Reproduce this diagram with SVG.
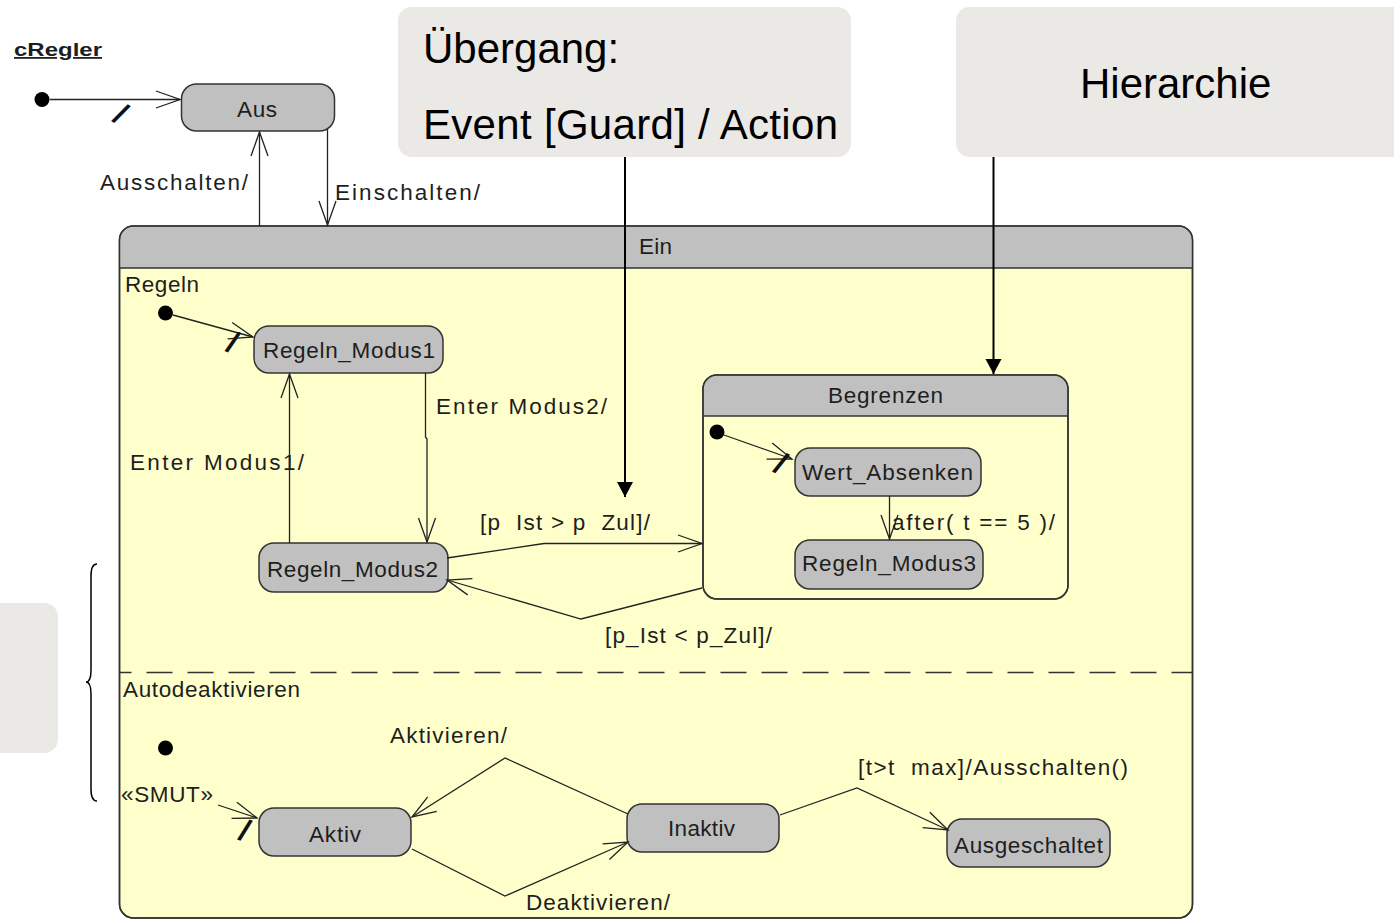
<svg xmlns="http://www.w3.org/2000/svg" width="1394" height="921" viewBox="0 0 1394 921">
  <style>
    .lbl { font-family: "Liberation Sans", Arial, sans-serif; font-size: 22.5px; fill: #1e1e1e; white-space: pre; }
    .note { font-family: "Liberation Sans", Arial, sans-serif; font-size: 42px; fill: #000; }
    .callout { fill: #ebe9e6; stroke: none; }
    .state { fill: #c0c0c0; stroke: #333; stroke-width: 1.5; }
    .region { fill: #ffffcc; stroke: #333; stroke-width: 1.5; }
    .head { fill: #c0c0c0; stroke: none; }
    .sep { stroke: #333; stroke-width: 1.5; fill: none; }
    .tr { fill: none; stroke: #222; stroke-width: 1.3; marker-end: url(#open); }
    .pin { fill: none; stroke: #000; stroke-width: 2; marker-end: url(#solid); }
    .dot { fill: #000; }
    .slash { font-family: "Liberation Sans", Arial, sans-serif; font-size: 31px; font-weight: bold; fill: #111; }
  </style>
  <defs>
    <marker id="open" viewBox="-26 -11 28 22" markerWidth="28" markerHeight="22" refX="0" refY="0" orient="auto" markerUnits="userSpaceOnUse">
      <path d="M-24,-8.5 L0,0 L-24,8.5" fill="none" stroke="#222" stroke-width="1.3"/>
    </marker>
    <marker id="solid" viewBox="-16 -9 17 18" markerWidth="17" markerHeight="18" refX="0" refY="0" orient="auto" markerUnits="userSpaceOnUse">
      <path d="M-15,-8 L0,0 L-15,8 Z" fill="#000"/>
    </marker>
  </defs>

  <rect width="1394" height="921" fill="#fff"/>

  <!-- note boxes -->
  <g id="note-transition">
    <rect class="callout" x="398" y="7" width="453" height="150" rx="14"/>
    <text class="note" x="423" y="63">Übergang:</text>
    <text class="note" x="423" y="139" textLength="415">Event [Guard] / Action</text>
  </g>
  <g id="note-hierarchy">
    <rect class="callout" x="956" y="7" width="460" height="150" rx="14"/>
    <text class="note" x="1080" y="98">Hierarchie</text>
  </g>
  <g id="note-parallel">
    <rect class="callout" x="-20" y="603" width="78" height="150" rx="14"/>
    <path d="M97,564 Q91,564 91,576 L91,670 Q91,682 86,682 Q91,682 91,694 L91,789 Q91,801 97,801" fill="none" stroke="#000" stroke-width="1.5"/>
  </g>

  <!-- class name -->
  <text id="title" x="14" y="56" font-family="'Liberation Sans', Arial, sans-serif" font-size="18" font-weight="bold" fill="#1e1e1e" text-decoration="underline" textLength="88" lengthAdjust="spacingAndGlyphs">cRegler</text>

  <!-- top-level initial pseudostate and Aus -->
  <g id="init-top"><circle class="dot" cx="42" cy="99.5" r="7.5"/></g>
  <g id="state-aus">
    <rect class="state" x="181.5" y="84" width="153" height="47" rx="15"/>
    <text class="lbl" x="237" y="117" textLength="40">Aus</text>
  </g>

  <!-- composite state Ein -->
  <g id="state-ein">
    <rect class="region" x="119.5" y="226" width="1073" height="692" rx="14"/>
    <path class="head" d="M120.3,268 V240 Q120.3,226.8 134,226.8 H1178 Q1191.7,226.8 1191.7,240 V268 Z"/>
    <line class="sep" x1="119.5" y1="268" x2="1192.5" y2="268"/>
    <rect x="119.5" y="226" width="1073" height="692" rx="14" fill="none" stroke="#333" stroke-width="1.5"/>
    <text class="lbl" x="639" y="254" textLength="33">Ein</text>
    <line x1="119.5" y1="672.5" x2="1192.5" y2="672.5" stroke="#333" stroke-width="1.5" stroke-dasharray="26 15" stroke-dashoffset="14"/>
    <text class="lbl" x="125" y="292" textLength="74">Regeln</text>
    <text class="lbl" x="123" y="697" textLength="177">Autodeaktivieren</text>
  </g>

  <!-- region Regeln -->
  <g id="init-regeln"><circle class="dot" cx="165.5" cy="313" r="7.5"/></g>
  <g id="state-modus1">
    <rect class="state" x="254" y="326" width="189" height="47" rx="15"/>
    <text class="lbl" x="263" y="358" textLength="172">Regeln_Modus1</text>
  </g>
  <g id="state-modus2">
    <rect class="state" x="259" y="543" width="189" height="49" rx="15"/>
    <text class="lbl" x="267" y="577" textLength="171">Regeln_Modus2</text>
  </g>
  <g id="state-begrenzen">
    <rect class="region" x="703" y="375" width="365" height="224" rx="14"/>
    <path class="head" d="M703.8,416 V389 Q703.8,375.8 717,375.8 H1054 Q1067.2,375.8 1067.2,389 V416 Z"/>
    <line class="sep" x1="703" y1="416" x2="1068" y2="416"/>
    <rect x="703" y="375" width="365" height="224" rx="14" fill="none" stroke="#333" stroke-width="1.5"/>
    <text class="lbl" x="828" y="403" textLength="115">Begrenzen</text>
  </g>
  <g id="init-begrenzen"><circle class="dot" cx="717" cy="432" r="7.5"/></g>
  <g id="state-wert-absenken">
    <rect class="state" x="795" y="448" width="186" height="48" rx="15"/>
    <text class="lbl" x="802" y="480" textLength="171">Wert_Absenken</text>
  </g>
  <g id="state-modus3">
    <rect class="state" x="795" y="540" width="188" height="49" rx="15"/>
    <text class="lbl" x="802" y="571" textLength="174">Regeln_Modus3</text>
  </g>

  <!-- region Autodeaktivieren -->
  <g id="init-auto"><circle class="dot" cx="165.5" cy="748" r="7.5"/></g>
  <g id="state-aktiv">
    <rect class="state" x="259" y="808" width="152" height="48" rx="15"/>
    <text class="lbl" x="309" y="842" textLength="52">Aktiv</text>
  </g>
  <g id="state-inaktiv">
    <rect class="state" x="627" y="804" width="152" height="48" rx="15"/>
    <text class="lbl" x="668" y="836" textLength="67">Inaktiv</text>
  </g>
  <g id="state-ausgeschaltet">
    <rect class="state" x="947" y="819" width="163" height="48" rx="15"/>
    <text class="lbl" x="954" y="853" textLength="149">Ausgeschaltet</text>
  </g>

  <!-- transitions -->
  <g id="connectors">
    <path class="tr" d="M50,99.5 L180,99.5"/>
    <path class="tr" d="M259.5,226 L259.5,132"/>
    <path class="tr" d="M327.5,129 L327.5,225"/>
    <path class="tr" d="M173,315 L253,337"/>
    <path class="tr" d="M425.5,373 V437 L427,439 V542"/>
    <path class="tr" d="M289.5,543 V374"/>
    <path class="tr" d="M447,558 L544,543.5 L702,543.5"/>
    <path class="tr" d="M702,588 L581,619 L447,580"/>
    <path class="tr" d="M724,435 L792,459"/>
    <path class="tr" d="M889.5,496 V539"/>
    <path class="tr" d="M218,805 L257,818"/>
    <path class="tr" d="M628,814 L505,758 L412,817"/>
    <path class="tr" d="M412,849 L505,896 L628,842"/>
    <path class="tr" d="M780,815 L857,788 L948,830"/>

    <path class="pin" d="M625,157 V497"/>
    <path class="pin" d="M993.5,157 V374"/>

    <!-- transition labels -->
    <text class="slash" x="121" y="124.5" text-anchor="middle" transform="rotate(34 121 113.5)">/</text>
    <text class="slash" x="233" y="353" text-anchor="middle" transform="rotate(24 233 342)">/</text>
    <text class="slash" x="781" y="474" text-anchor="middle" transform="rotate(28 781 463)">/</text>
    <text class="slash" x="245" y="841" text-anchor="middle" transform="rotate(21 245 830)">/</text>

    <text class="lbl" x="100" y="190" textLength="148">Ausschalten/</text>
    <text class="lbl" x="335" y="200" textLength="145">Einschalten/</text>
    <text class="lbl" x="436" y="414" textLength="171">Enter Modus2/</text>
    <text class="lbl" x="130" y="470" textLength="174">Enter Modus1/</text>
    <text class="lbl" x="480" y="530" textLength="170">[p  Ist &gt; p  Zul]/</text>
    <text class="lbl" x="605" y="643" textLength="167">[p_Ist &lt; p_Zul]/</text>
    <text class="lbl" x="892" y="530" textLength="163">after( t == 5 )/</text>
    <text class="lbl" x="121" y="802" textLength="92">«SMUT»</text>
    <text class="lbl" x="390" y="743" textLength="117">Aktivieren/</text>
    <text class="lbl" x="526" y="910" textLength="144">Deaktivieren/</text>
    <text class="lbl" x="858" y="775" textLength="270">[t&gt;t  max]/Ausschalten()</text>
  </g>
</svg>
